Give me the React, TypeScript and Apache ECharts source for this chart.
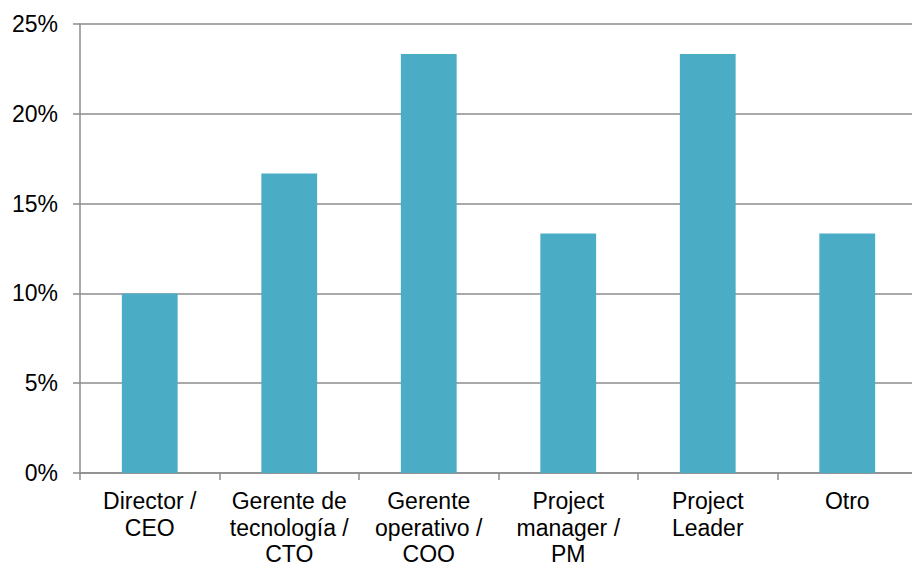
import React, { useEffect, useRef } from "react";
import * as echarts from "echarts";

const categories = [
  "Director /\nCEO",
  "Gerente de\ntecnología /\nCTO",
  "Gerente\noperativo /\nCOO",
  "Project\nmanager /\nPM",
  "Project\nLeader",
  "Otro",
];
const shares = [10, 16.67, 23.33, 13.33, 23.33, 13.33];
const yTicks = [0, 5, 10, 15, 20, 25];

export default function App() {
  const ref = useRef<HTMLDivElement>(null);
  useEffect(() => {
    if (!ref.current) return;
    const chart = echarts.init(ref.current, undefined, { renderer: "svg" });
    const font = "'Liberation Sans', Arial, sans-serif";
    chart.setOption({
      animation: false,
      grid: {
        left: 80,
        right: -5,
        top: 24,
        bottom: 95,
        containLabel: false,
        outerBoundsMode: "none",
      },
      xAxis: {
        type: "category",
        data: categories,
        axisLine: { show: true, lineStyle: { color: "#8c8c8c", width: 1.5 } },
        axisTick: { show: true, length: 7, lineStyle: { color: "#8c8c8c", width: 1.5 } },
        axisLabel: {
          interval: 0,
          color: "#000",
          fontFamily: font,
          fontSize: 23,
          lineHeight: 26.5,
          margin: 15,
        },
      },
      yAxis: {
        type: "value",
        min: yTicks[0],
        max: yTicks[yTicks.length - 1],
        interval: 5,
        axisLine: { show: true, lineStyle: { color: "#8c8c8c", width: 1.5 } },
        axisTick: { show: true, length: 7, lineStyle: { color: "#8c8c8c", width: 1.5 } },
        splitLine: { show: true, lineStyle: { color: "#8c8c8c", width: 1.5 } },
        axisLabel: {
          color: "#000",
          fontFamily: font,
          fontSize: 23,
          margin: 22,
          formatter: (v: number) => `${v}%`,
        },
      },
      series: [
        {
          type: "bar",
          data: shares,
          barWidth: "40%",
          itemStyle: { color: "#4bacc6" },
        },
      ],
    });
    return () => chart.dispose();
  }, []);
  return <div ref={ref} style={{ width: 912, height: 568, position: "absolute", left: 0, top: 0 }} />;
}
